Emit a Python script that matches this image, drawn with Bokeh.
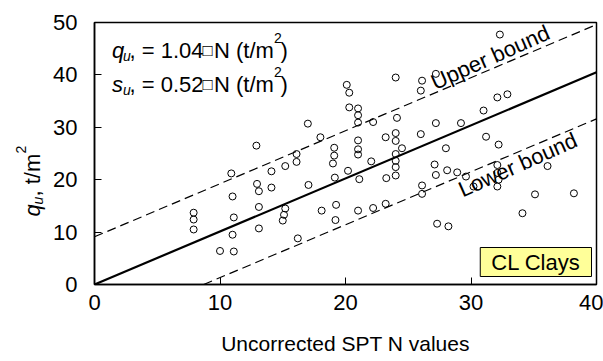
from bokeh.plotting import figure
from bokeh.models import Label, Range1d
from bokeh.layouts import row
from bokeh.embed import file_html
from bokeh.resources import INLINE

# ---- data ----
spt_n = [7.9, 7.9, 7.9, 10.0, 11.1, 11.0, 11.1, 11.0, 10.9, 12.9,
         12.95, 13.1, 13.1, 13.1, 14.1, 14.1, 15.2, 15.2, 15.1, 15.0,
         16.1, 16.1, 16.2, 17.0, 17.05, 18.0, 18.1, 19.1, 19.1, 19.0,
         19.15, 19.25, 19.2, 20.2, 20.3, 20.1, 20.3, 21.0, 21.0, 21.0,
         22.2, 21.0, 21.0, 21.0, 23.2, 22.05, 21.1, 23.25, 21.0, 22.2,
         23.2, 24.0, 26.1, 26.0, 27.2, 24.1, 24.0, 24.0, 24.5, 26.0,
         27.2, 29.2, 31.0, 31.2, 28.0, 32.3, 32.1, 32.9, 32.2, 24.0,
         24.0, 24.0, 24.0, 27.1, 27.2, 28.1, 28.9, 29.6, 32.1, 32.1,
         32.2, 32.1, 36.1, 35.1, 38.2, 34.1, 27.3, 28.2, 26.1, 26.1,
         30.2]
qu = [13.7, 12.4, 10.5, 6.4, 6.3, 9.5, 12.8, 16.8, 21.2, 26.5,
      19.2, 17.8, 14.8, 10.7, 21.6, 18.5, 22.6, 14.5, 13.3, 12.2,
      24.9, 23.4, 8.8, 30.7, 19.0, 28.1, 14.1, 26.1, 24.6, 23.1,
      20.4, 15.2, 12.3, 21.7, 33.8, 38.1, 36.6, 33.6, 32.3, 30.9,
      31.0, 27.5, 25.8, 24.8, 28.1, 23.5, 20.1, 20.3, 14.1, 14.6,
      15.4, 39.5, 38.9, 37.0, 40.2, 31.8, 28.9, 27.4, 26.0, 28.7,
      30.8, 30.8, 33.2, 28.2, 26.0, 47.7, 35.7, 36.3, 26.7, 24.9,
      23.6, 22.4, 20.8, 22.9, 20.9, 21.8, 21.4, 20.6, 22.8, 21.3,
      20.0, 18.7, 22.6, 17.2, 17.4, 13.6, 11.6, 11.1, 18.9, 17.3,
      18.7]

fit_n = [0, 40]
fit_q = [0, 40.5]
upper_n = [0, 40]
upper_q = [9.1, 49.6]
lower_n = [8.7, 40]
lower_q = [0, 31.6]

x_ticks = [0, 10, 20, 30, 40]
y_ticks = [0, 10, 20, 30, 40, 50]

FONT = "Liberation Sans"
W, H = 603, 361
LW = 50           # width of the left strip holding the y title
FL, FB = 93, 284  # frame left / bottom in page pixels

# ---- left strip with the rotated y-axis title ----
side = figure(width=LW, height=H, output_backend="svg", toolbar_location=None,
              x_range=Range1d(0, LW), y_range=Range1d(0, H),
              min_border=0, x_axis_type=None, y_axis_type=None)
side.outline_line_color = None
side.grid.visible = False
side.background_fill_color = "white"
side.border_fill_color = "white"


def side_label(px, py, text, size, style="normal"):
    # the strip's frame is aligned with the main frame (bottom at FB)
    side.add_layout(Label(x=px, y=FB - py, x_units="screen", y_units="screen",
                          text=text, text_font=FONT, text_font_size=f"{size}px",
                          text_font_style=style, text_color="black",
                          text_align="left", text_baseline="alphabetic",
                          angle=90, angle_units="deg"))


side_label(32, 216, "q", 22, "italic")
side_label(37, 204, "u", 14, "italic")
side_label(32, 196, ", t/m", 22)
side_label(20, 153, "2", 14)

# ---- main plot ----
p = figure(width=W - LW, height=H, output_backend="svg", toolbar_location=None,
           x_range=Range1d(0, 40), y_range=Range1d(0, 50),
           min_border_left=FL - LW, min_border_right=7, min_border_top=22,
           min_border_bottom=H - FB)
p.background_fill_color = "white"
p.border_fill_color = "white"
p.outline_line_color = "black"
p.outline_line_width = 1.5
p.grid.visible = False

for ax in (p.xaxis[0], p.yaxis[0]):
    ax.axis_line_color = "black"
    ax.axis_line_width = 1.5
    ax.major_tick_in = 7
    ax.major_tick_out = 0
    ax.major_tick_line_color = "black"
    ax.major_tick_line_width = 1
    ax.minor_tick_line_color = None
    ax.major_label_text_font = FONT
    ax.major_label_text_font_size = "22px"
    ax.major_label_text_color = "black"

p.xaxis.ticker = x_ticks
p.yaxis.ticker = y_ticks
p.xaxis.major_label_standoff = 10
p.yaxis.major_label_standoff = 17
p.xaxis.axis_label = "Uncorrected SPT N values"
p.xaxis.axis_label_text_font = FONT
p.xaxis.axis_label_text_font_size = "21px"
p.xaxis.axis_label_text_font_style = "normal"
p.xaxis.axis_label_text_color = "black"
p.xaxis.axis_label_standoff = 19

# lines
p.line(fit_n, fit_q, line_color="black", line_width=2.2)
p.line(upper_n, upper_q, line_color="black", line_width=1.2, line_dash="9 5")
p.line(lower_n, lower_q, line_color="black", line_width=1.2, line_dash="9 5")

# points
p.scatter(spt_n, qu, marker="circle", size=7, fill_color=None,
          line_color="black", line_width=1)


def slabel(px, py, text, size, style="normal"):
    p.add_layout(Label(x=px - FL, y=FB - py, x_units="screen", y_units="screen",
                       text=text, text_font=FONT, text_font_size=f"{size}px",
                       text_font_style=style, text_color="black",
                       text_align="left", text_baseline="alphabetic"))


# equation texts
for sym, coef, base in (("q", "1.04", 50), ("s", "0.52", 84)):
    slabel(110.5, base, sym, 22, "italic")
    slabel(121.5, base + 5, "u", 14, "italic")
    slabel(128, base, ", = " + coef, 22)
    slabel(201, base, "\u25a1", 17)
    slabel(212.5, base, "N (t/m", 22)
    slabel(272.5, base - 13, "2", 14)
    slabel(279, base, ")", 22)

# bound labels
p.add_layout(Label(x=26.9, y=38.4, text="Upper bound", angle=24, angle_units="deg",
                   text_font=FONT, text_font_size="22px", text_color="black",
                   text_align="left", text_baseline="alphabetic"))
p.add_layout(Label(x=29.1, y=17.9, text="Lower bound", angle=24, angle_units="deg",
                   text_font=FONT, text_font_size="22px", text_color="black",
                   text_align="left", text_baseline="alphabetic"))

# CL Clays box
p.add_layout(Label(x=590 - FL, y=FB - 276, x_units="screen", y_units="screen",
                   text="CL Clays", text_font=FONT, text_font_size="22px",
                   text_color="black", text_align="right", text_baseline="bottom",
                   background_fill_color="#FFFF99", border_line_color="black",
                   border_line_width=1, padding=(11, 2)))

layout = row(side, p)
open("out.html", "w").write(file_html(layout, INLINE))
